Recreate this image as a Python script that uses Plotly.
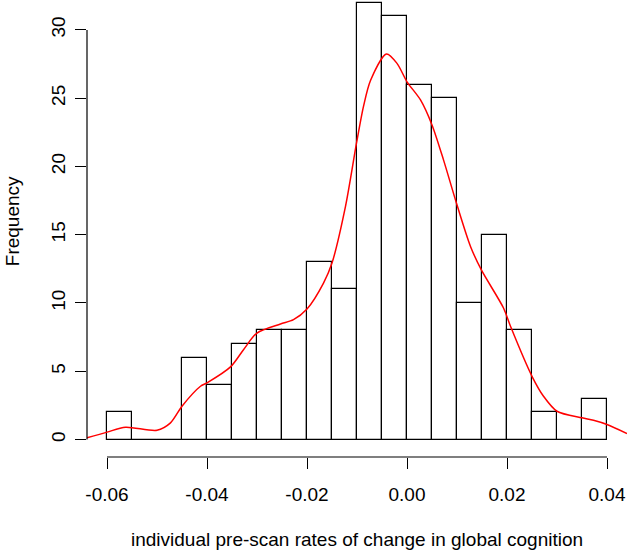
import plotly.graph_objects as go

# histogram bins (width 0.005) and counts
bin_edges = [-0.060, -0.055, -0.050, -0.045, -0.040, -0.035, -0.030, -0.025, -0.020, -0.015, -0.010,
             -0.005, 0.000, 0.005, 0.010, 0.015, 0.020, 0.025, 0.030, 0.035, 0.040]
counts = [2, 0, 0, 6, 4, 7, 8, 8, 13, 11, 32, 31, 26, 25, 10, 15, 8, 2, 0, 3]

# density curve, scaled to frequency
dens_x = [-0.0640, -0.0600, -0.0563, -0.0500, -0.0473, -0.0450, -0.0413, -0.0400, -0.0353, -0.0327,
          -0.0300, -0.0253, -0.0227, -0.0200, -0.0167, -0.0150, -0.0123, -0.0101, -0.0087, -0.0073,
          -0.0041, -0.0020, 0.0000, 0.0027, 0.0050, 0.0073, 0.0099, 0.0127, 0.0149, 0.0193,
          0.0207, 0.0250, 0.0273, 0.0300, 0.0350, 0.0373, 0.0400, 0.0440]
dens_y = [0.12, 0.54, 0.90, 0.68, 1.22, 2.44, 3.90, 4.15, 5.32, 6.58,
          7.80, 8.46, 8.78, 9.56, 11.46, 12.93, 17.07, 21.70, 24.40, 26.30,
          28.24, 27.55, 26.20, 24.87, 23.04, 20.48, 17.30, 14.14, 12.40, 9.63,
          8.29, 4.63, 3.17, 2.07, 1.59, 1.41, 1.10, 0.44]

x_ticks = [-0.06, -0.04, -0.02, 0.00, 0.02, 0.04]
x_tick_labels = ['-0.06', '-0.04', '-0.02', '0.00', '0.02', '0.04']
y_ticks = [0, 5, 10, 15, 20, 25, 30]

centers = [(a + b) / 2 for a, b in zip(bin_edges[:-1], bin_edges[1:])]

fig = go.Figure()
fig.add_trace(go.Bar(x=centers, y=counts, width=bin_edges[1] - bin_edges[0],
                     marker=dict(color='white', line=dict(color='black', width=1.2)),
                     showlegend=False))
fig.add_trace(go.Scatter(x=dens_x, y=dens_y, mode='lines',
                         line=dict(color='#ff0000', width=1.5, shape='spline', smoothing=0.8),
                         showlegend=False))

# R-style axis lines that only cover the tick range, plus the bar baseline
fig.add_shape(type='line', xref='x', yref='paper', x0=x_ticks[0], x1=x_ticks[-1], y0=0, y1=0,
              line=dict(color='black', width=1.2))
fig.add_shape(type='line', xref='paper', yref='y', x0=0, x1=0, y0=y_ticks[0], y1=y_ticks[-1],
              line=dict(color='black', width=1.2))
fig.add_shape(type='line', xref='x', yref='y', x0=bin_edges[0], x1=bin_edges[-1], y0=0, y1=0,
              line=dict(color='black', width=1.2))

fig.add_annotation(text='individual pre-scan rates of change in global cognition',
                   xref='paper', yref='paper', x=0.5, y=-0.18, showarrow=False,
                   xanchor='center', yanchor='middle', font=dict(size=19, color='black'))
fig.add_annotation(text='Frequency', textangle=-90,
                   xref='paper', yref='paper', x=-0.138, y=0.517, showarrow=False,
                   xanchor='center', yanchor='middle', font=dict(size=19, color='black'))

fig.update_xaxes(range=[-0.064, 0.044], tickvals=x_ticks, ticktext=x_tick_labels,
                 ticks='outside', ticklen=11, tickwidth=1.2, tickcolor='black',
                 showgrid=False, zeroline=False, showline=False,
                 tickfont=dict(size=19, color='black'), ticklabelstandoff=9)
fig.update_yaxes(range=[-1.28, 32.19], tickvals=y_ticks, tickangle=-90,
                 ticks='outside', ticklen=11, tickwidth=1.2, tickcolor='black',
                 showgrid=False, zeroline=False, showline=False,
                 tickfont=dict(size=19, color='black'), ticklabelstandoff=2)

fig.update_layout(
    width=630, height=553,
    margin=dict(l=87, r=3, t=0, b=95.5),
    plot_bgcolor='white', paper_bgcolor='white',
    font=dict(family='Liberation Sans, Arial, sans-serif', color='black'),
    bargap=0,
)

fig.write_html("out.html", config={'displayModeBar': False},
               post_script="document.body.style.margin='0';")
